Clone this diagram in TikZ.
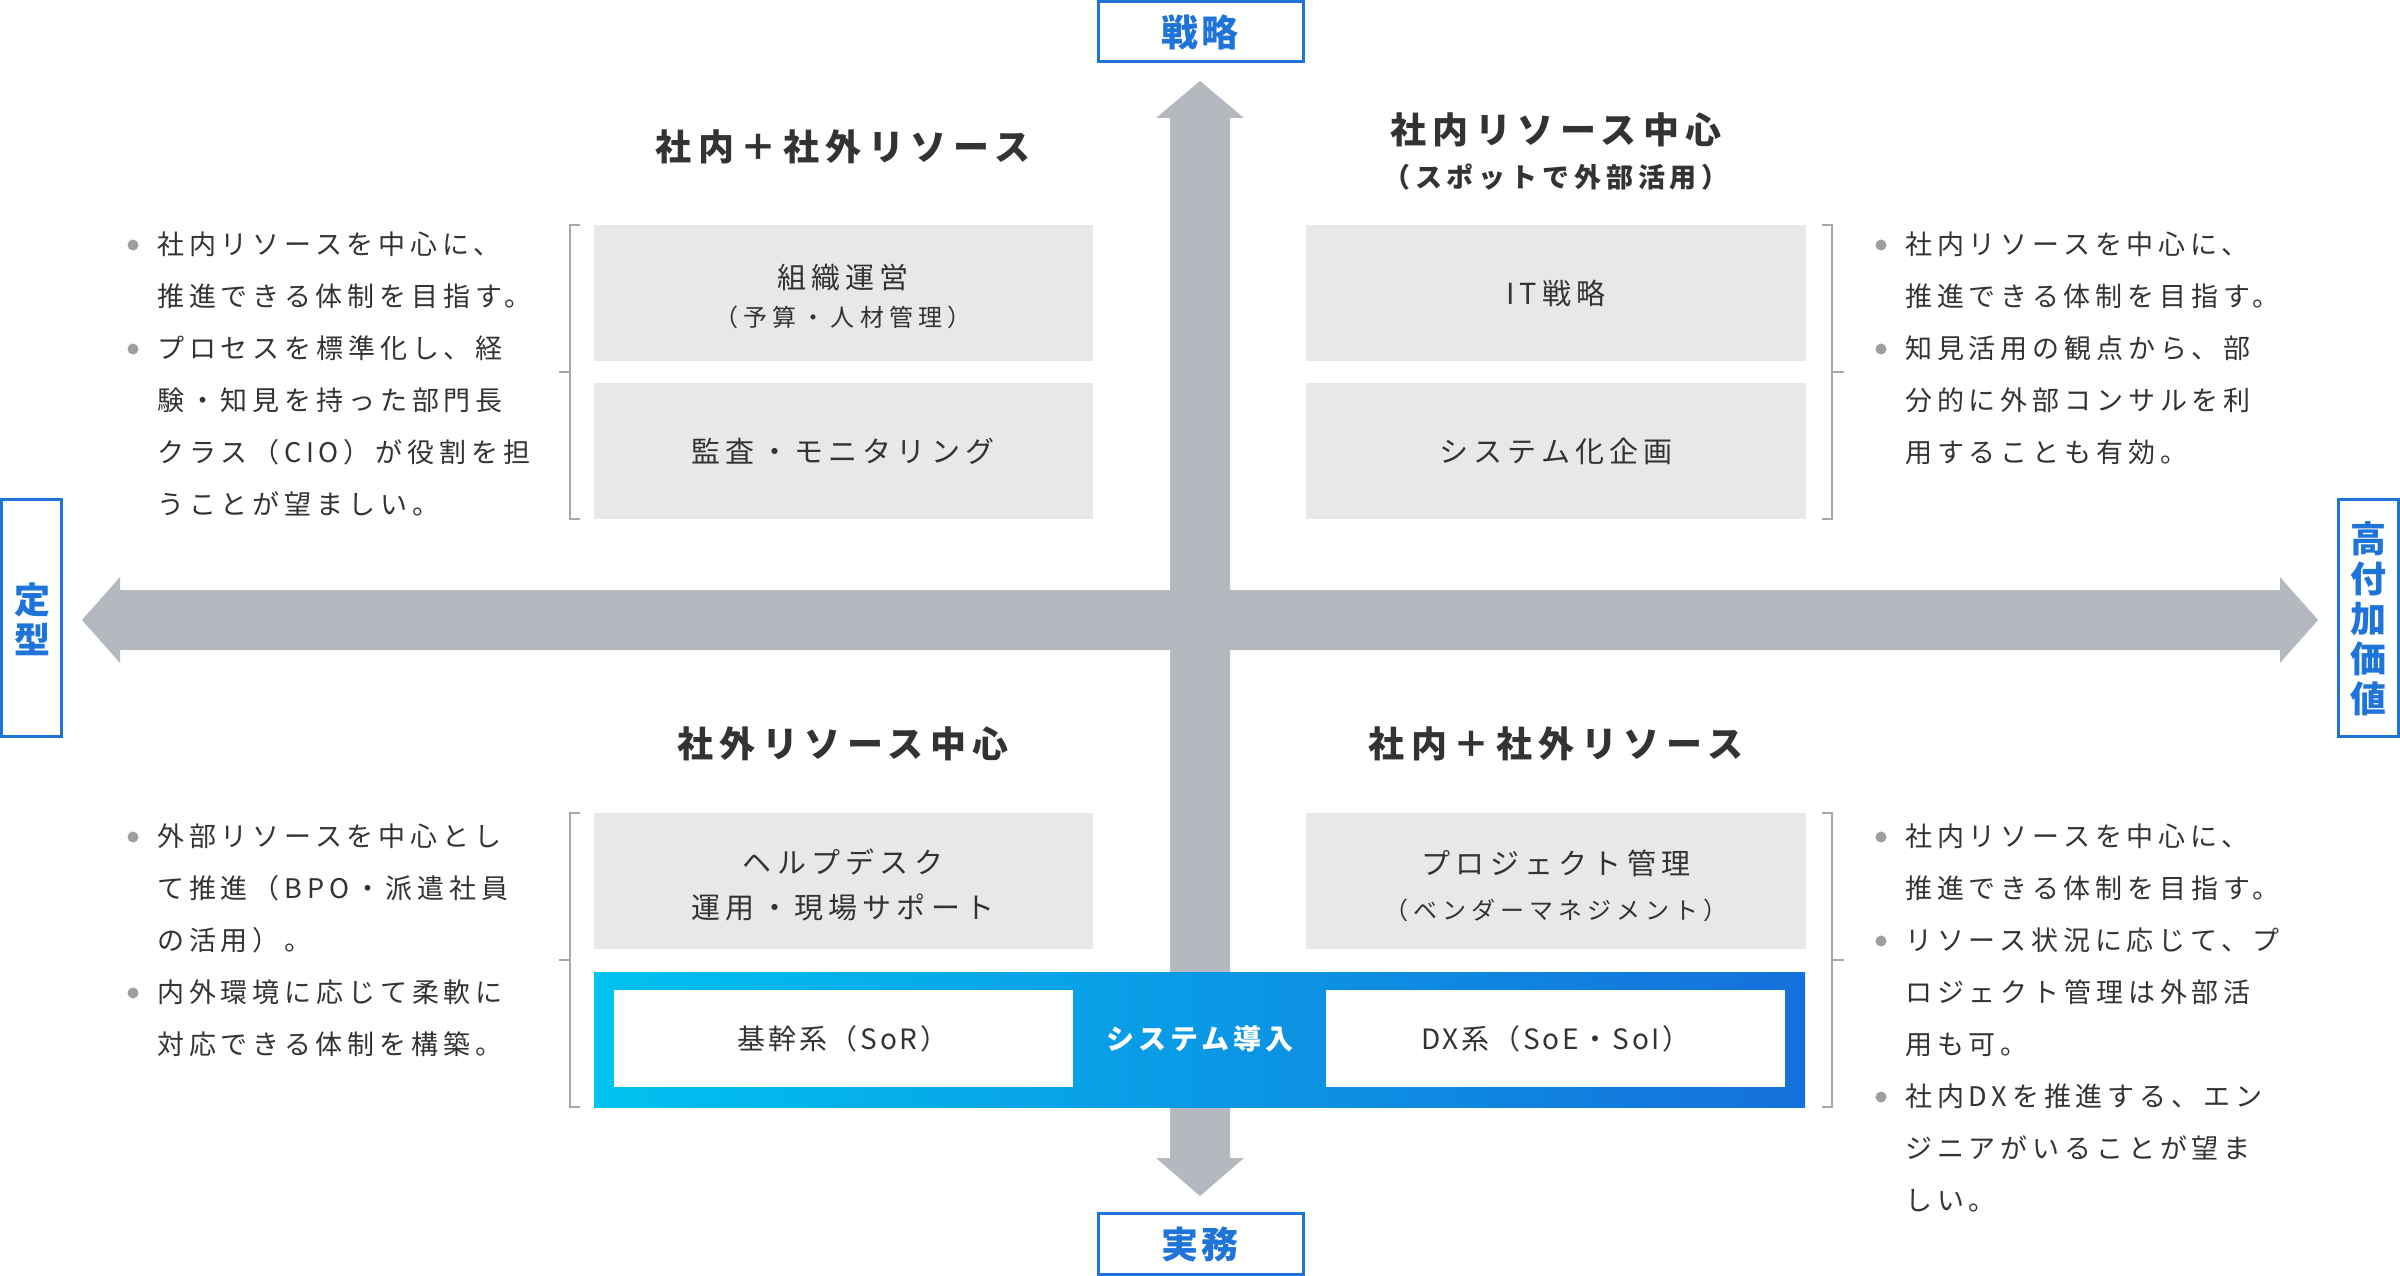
\documentclass[tikz,border=0pt]{standalone}
\usepackage{fontspec}
\setmainfont{Noto Sans CJK JP}
\newfontfamily\jpbody[LetterSpace=18]{Noto Sans CJK JP}
\newfontfamily\jpboxm[LetterSpace=18]{Noto Sans CJK JP}
\newfontfamily\jpboxs[LetterSpace=21]{Noto Sans CJK JP}
\newfontfamily\jptitle[LetterSpace=18]{Noto Sans CJK JP}
\newfontfamily\jpsub[LetterSpace=18]{Noto Sans CJK JP}
\newfontfamily\jplabel[LetterSpace=6]{Noto Sans CJK JP}
\newfontfamily\jpband[LetterSpace=10]{Noto Sans CJK JP}
\newfontfamily\jpbandb[LetterSpace=14]{Noto Sans CJK JP}
\definecolor{lblue}{HTML}{1E74D8}
\definecolor{txt}{HTML}{333333}
\definecolor{arrowgray}{HTML}{B4B8BF}
\definecolor{boxgray}{HTML}{E8E8E8}
\definecolor{brk}{HTML}{A8A8A8}
\definecolor{bul}{HTML}{9E9E9E}
\definecolor{gradL}{HTML}{00C2F0}
\definecolor{gradR}{HTML}{1570DB}
\tikzset{
  bodytxt/.style={inner sep=0pt, anchor=west, text=txt, font=\jpbody\fontsize{27pt}{30pt}\selectfont, text height=23.8pt, text depth=3.2pt},
  boxmain/.style={inner sep=0pt, text=txt, font=\jpboxm\fontsize{29pt}{32pt}\selectfont, text height=25.5pt, text depth=3.5pt},
  boxsub/.style={inner sep=0pt, text=txt, font=\jpboxs\fontsize{24pt}{28pt}\selectfont, text height=21.1pt, text depth=2.9pt},
  qtitle/.style={inner sep=0pt, text=txt, font=\jptitle\bfseries\fontsize{36pt}{40pt}\selectfont, text height=31.7pt, text depth=4.3pt},
  qsub/.style={inner sep=0pt, text=txt, font=\jpsub\bfseries\fontsize{27pt}{30pt}\selectfont, text height=23.8pt, text depth=3.2pt},
  lbl/.style={inner sep=0pt, text=lblue, font=\jplabel\bfseries\fontsize{37pt}{40pt}\selectfont, text height=32.6pt, text depth=4.4pt},
  lblv/.style={inner sep=0pt, text=lblue, font=\jplabel\bfseries\fontsize{36pt}{40pt}\selectfont, text height=31.7pt, text depth=4.3pt},
  bandtxt/.style={inner sep=0pt, text=txt, font=\jpband\fontsize{28pt}{32pt}\selectfont, text height=24.6pt, text depth=3.4pt},
  bandtitle/.style={inner sep=0pt, text=white, font=\jpbandb\bfseries\fontsize{28pt}{32pt}\selectfont, text height=24.6pt, text depth=3.4pt},
  lblframe/.style={draw=lblue, line width=3pt, fill=white},
  gbox/.style={fill=boxgray},
  brline/.style={draw=brk, line width=2.5pt},
  bullet/.style={fill=bul},
}
\newcommand\bline[4]{\node[bodytxt] (#1) at (#2,#3) {#4};}
\newcommand\bdot[2]{\fill[bullet] (#1,#2) circle (5.5pt);}
\begin{document}
\begin{tikzpicture}[x=1pt,y=-1pt]
\fill[white] (0,0) rectangle (2400,1276);
\useasboundingbox (0,0) rectangle (2400,1276);

% axes arrows
\fill[arrowgray] (1200,81) -- (1244,118) -- (1230,118) -- (1230,1158) -- (1244,1158) -- (1200,1196) -- (1156,1158) -- (1170,1158) -- (1170,118) -- (1156,118) -- cycle;
\fill[arrowgray] (82,620) -- (120,577) -- (120,590) -- (2280,590) -- (2280,577) -- (2318,620) -- (2280,663) -- (2280,650) -- (120,650) -- (120,663) -- cycle;

% axis labels
\draw[lblframe] (1098.5,1.5) rectangle (1303.5,61.5);
\node[lbl] (top) at (1200,32) {戦略};
\draw[lblframe] (1098.5,1213.5) rectangle (1303.5,1274.5);
\node[lbl] (bottom) at (1200,1244) {実務};
\draw[lblframe] (1.5,499.5) rectangle (61.5,736.5);
\node[lblv] (left1) at (32,600) {定};
\node[lblv] (left2) at (32,640) {型};
\draw[lblframe] (2338.5,499.5) rectangle (2398.5,736.5);
\node[lblv] (right1) at (2368,539) {高};
\node[lblv] (right2) at (2368,579) {付};
\node[lblv] (right3) at (2368,619) {加};
\node[lblv] (right4) at (2368,659) {価};
\node[lblv] (right5) at (2368,699) {値};

% quadrant titles
\node[qtitle] (tlt) at (843,147) {社内＋社外リソース};
\node[qtitle] (trt) at (1556,130) {社内リソース中心};
\node[qsub] (trs) at (1556,177) {（スポットで外部活用）};
\node[qtitle] (blt) at (843,744) {社外リソース中心};
\node[qtitle] (brt) at (1556,744) {社内＋社外リソース};

% gray boxes
\fill[gbox] (594,225) rectangle (1093,361);
\fill[gbox] (594,383) rectangle (1093,519);
\fill[gbox] (1306,225) rectangle (1806,361);
\fill[gbox] (1306,383) rectangle (1806,519);
\fill[gbox] (594,813) rectangle (1093,949);
\fill[gbox] (1306,813) rectangle (1806,949);
\node[boxmain] (tl1) at (843,277) {組織運営};
\node[boxsub] (tl1s) at (843,317) {（予算・人材管理）};
\node[boxmain] (tl2) at (843,451) {監査・モニタリング};
\node[boxmain] (tr1) at (1556,293) {IT戦略};
\node[boxmain] (tr2) at (1556,451) {システム化企画};
\node[boxmain] (bl1) at (843,862) {ヘルプデスク};
\node[boxmain] (bl1b) at (843,907) {運用・現場サポート};
\node[boxmain] (br1) at (1556,863) {プロジェクト管理};
\node[boxsub] (br1s) at (1556,910) {（ベンダーマネジメント）};

% system band
\shade[left color=gradL, right color=gradR] (594,972) rectangle (1805,1107);
\fill[white] (614,990) rectangle (1073,1087);
\fill[white] (1326,990) rectangle (1785,1087);
\node[bandtxt] (sor) at (843,1039) {基幹系（SoR）};
\node[bandtitle] (sys) at (1200,1039) {システム導入};
\node[bandtxt] (soe) at (1556,1039) {DX系（SoE・SoI）};

% brackets
\draw[brline] (580,225) -- (570,225) -- (570,519) -- (580,519);
\draw[brline] (570,372) -- (559,372);
\draw[brline] (580,813) -- (570,813) -- (570,1107) -- (580,1107);
\draw[brline] (570,960) -- (559,960);
\draw[brline] (1822,225) -- (1832,225) -- (1832,519) -- (1822,519);
\draw[brline] (1832,372) -- (1844,372);
\draw[brline] (1822,813) -- (1832,813) -- (1832,1107) -- (1822,1107);
\draw[brline] (1832,960) -- (1844,960);

% top-left text
\bdot{133}{245}\bdot{133}{349}
\bline{tla}{157}{244}{社内リソースを中心に、}
\bline{tlb}{157}{296}{推進できる体制を目指す。}
\bline{tlc}{157}{348}{プロセスを標準化し、経}
\bline{tld}{157}{400}{験・知見を持った部門長}
\bline{tle}{157}{452}{クラス（CIO）が役割を担}
\bline{tlf}{157}{504}{うことが望ましい。}

% top-right text
\bdot{1881}{245}\bdot{1881}{349}
\bline{tra}{1905}{244}{社内リソースを中心に、}
\bline{trb}{1905}{296}{推進できる体制を目指す。}
\bline{trc}{1905}{348}{知見活用の観点から、部}
\bline{trd}{1905}{400}{分的に外部コンサルを利}
\bline{tre}{1905}{452}{用することも有効。}

% bottom-left text
\bdot{133}{837}\bdot{133}{993}
\bline{bla}{157}{836}{外部リソースを中心とし}
\bline{blb}{157}{888}{て推進（BPO・派遣社員}
\bline{blc}{157}{940}{の活用）。}
\bline{bld}{157}{992}{内外環境に応じて柔軟に}
\bline{ble}{157}{1044}{対応できる体制を構築。}

% bottom-right text
\bdot{1881}{837}\bdot{1881}{941}\bdot{1881}{1097}
\bline{bra}{1905}{836}{社内リソースを中心に、}
\bline{brb}{1905}{888}{推進できる体制を目指す。}
\bline{brc}{1905}{940}{リソース状況に応じて、プ}
\bline{brd}{1905}{992}{ロジェクト管理は外部活}
\bline{bre}{1905}{1044}{用も可。}
\bline{brf}{1905}{1096}{社内DXを推進する、エン}
\bline{brg}{1905}{1148}{ジニアがいることが望ま}
\bline{brh}{1905}{1200}{しい。}
\end{tikzpicture}
\end{document}
